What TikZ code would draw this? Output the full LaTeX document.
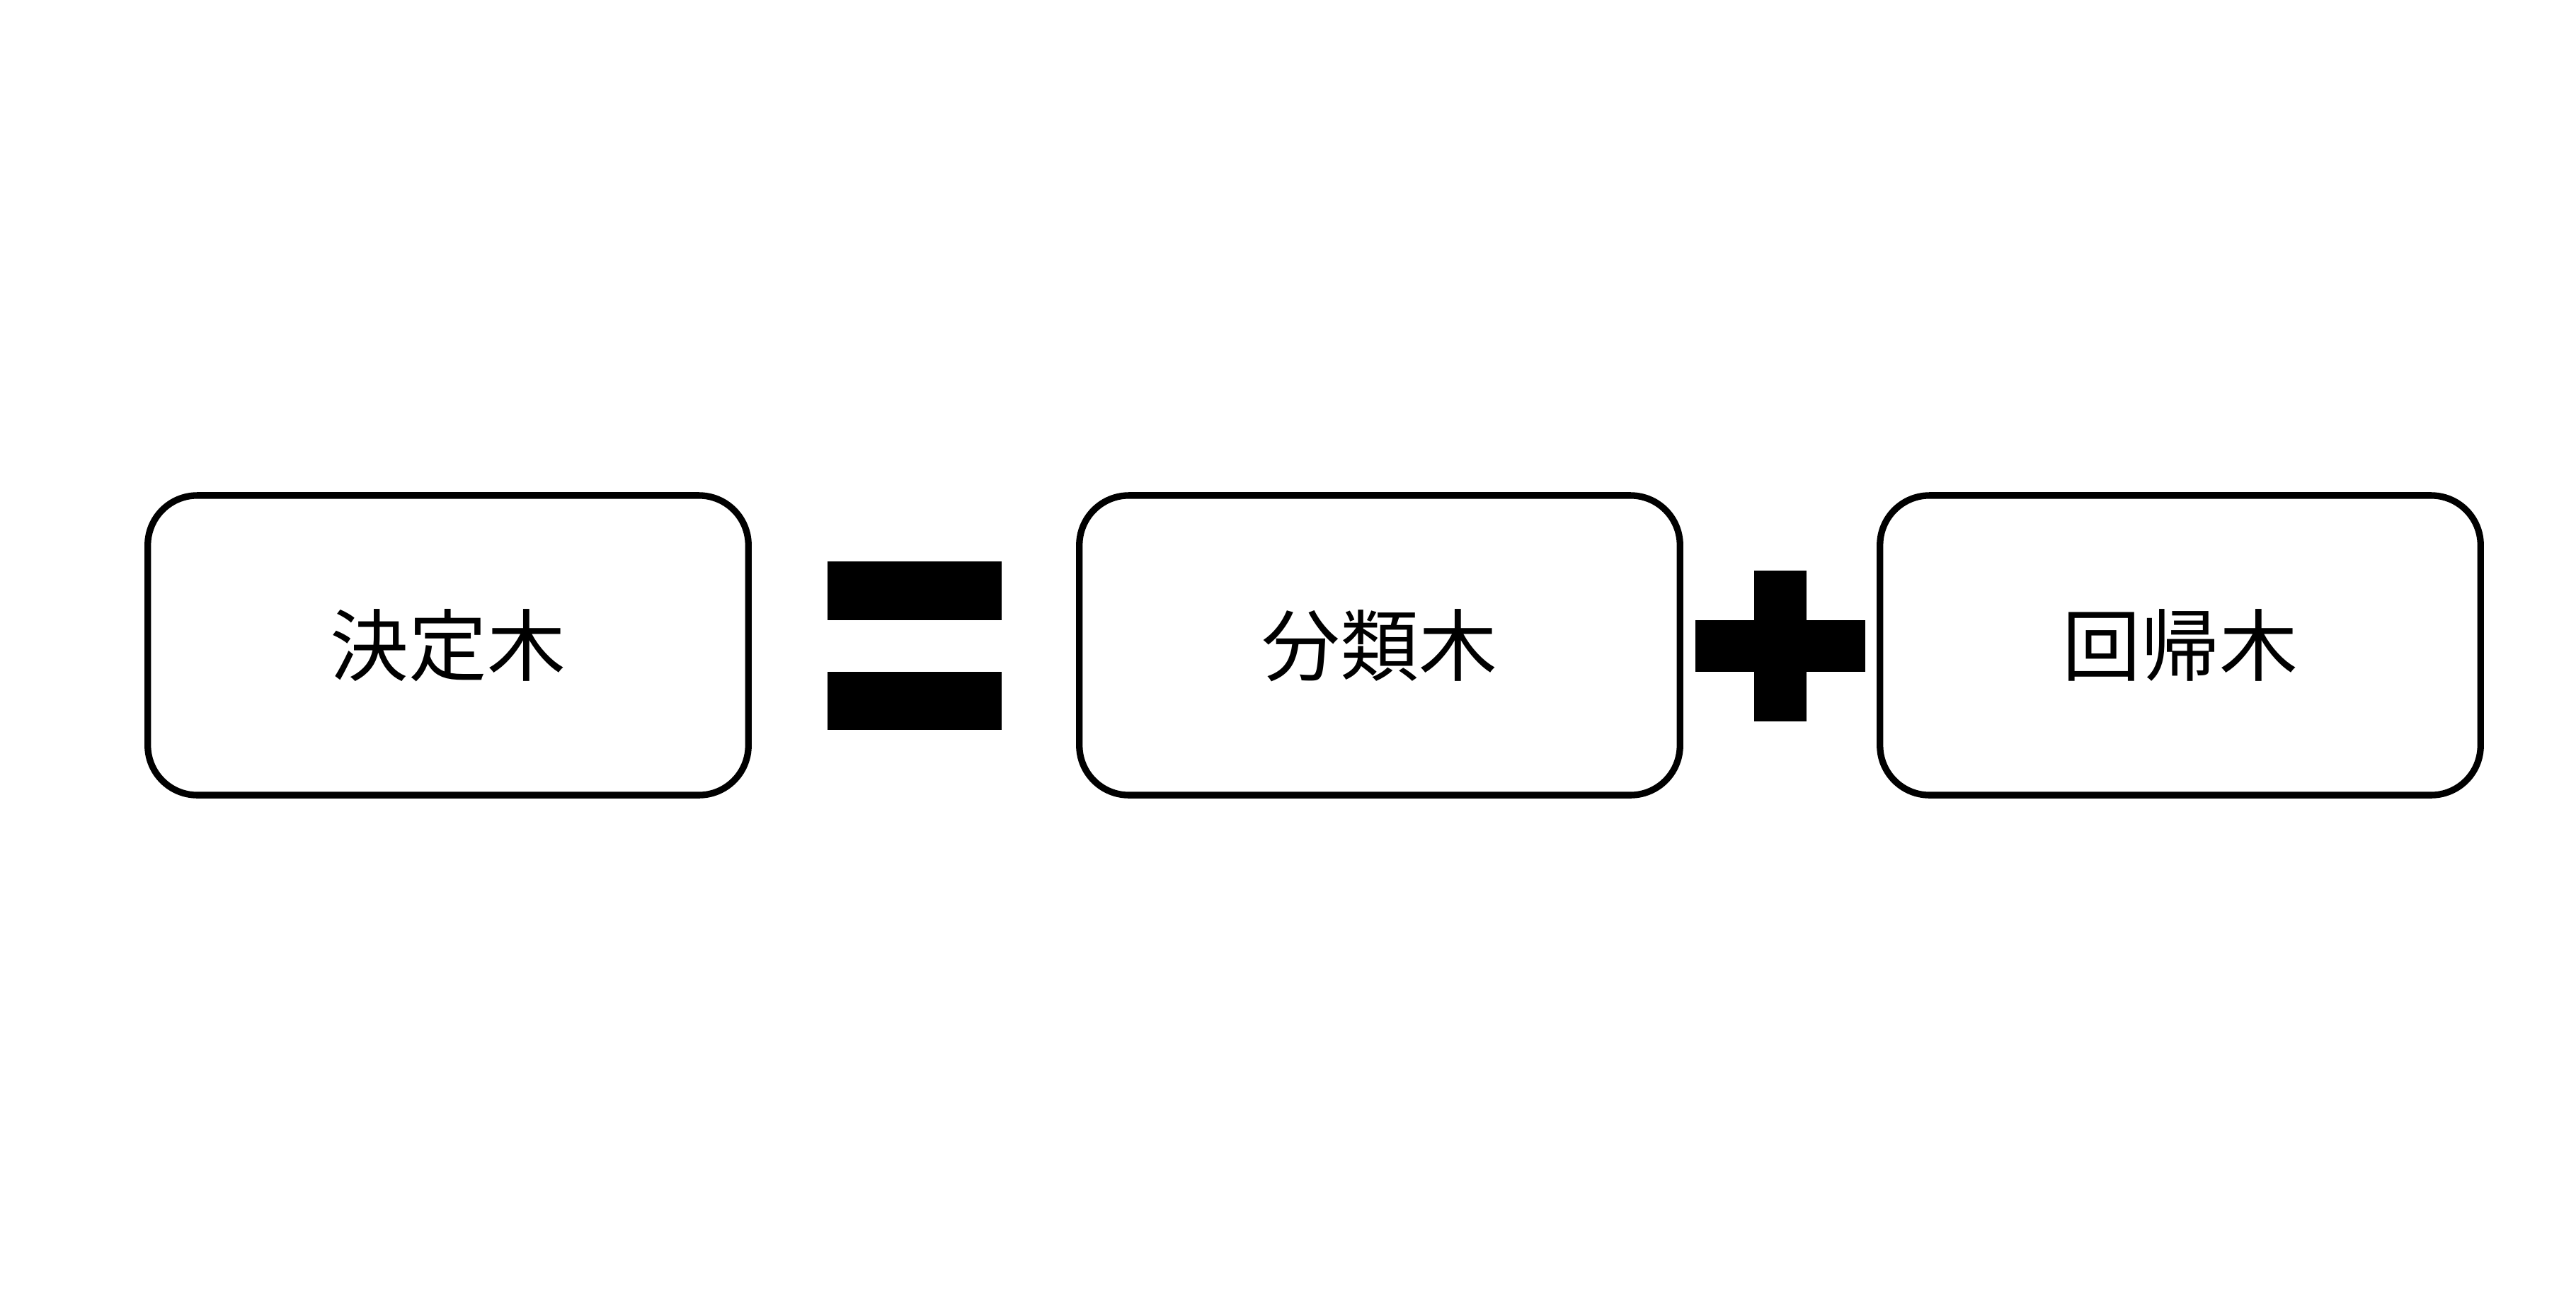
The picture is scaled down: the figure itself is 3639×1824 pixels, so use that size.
\documentclass[tikz,border=0pt]{standalone}
\usepackage{fontspec}
\newfontfamily\jpfont{Noto Sans CJK JP}
\tikzset{treebox/.style={draw, line width=0.093cm, rounded corners=0.7cm, minimum width=8.48cm, minimum height=4.23cm, inner sep=0pt, font=\jpfont\fontsize{31.5}{38}\selectfont}}

\begin{document}
\begin{tikzpicture}[x=0.01cm, y=-0.01cm]
		%%%%% START %%%%%
		\useasboundingbox (0, 0) rectangle (3639, 1824);
		
		\node[treebox] (decision) at (633, 911.5) {決定木};
		
		\fill[black] (1169, 793) rectangle (1415, 876);
		\fill[black] (1169, 949) rectangle (1415, 1031);
		
		\node[treebox] (classification) at (1949, 911.5) {分類木};
		
		\fill[black] (2478, 806) rectangle (2552, 1019);
		\fill[black] (2395, 876) rectangle (2635, 949);
		
		\node[treebox] (regression) at (3080, 911.5) {回帰木};
		%%%%% END %%%%%
	\end{tikzpicture}
\end{document}
